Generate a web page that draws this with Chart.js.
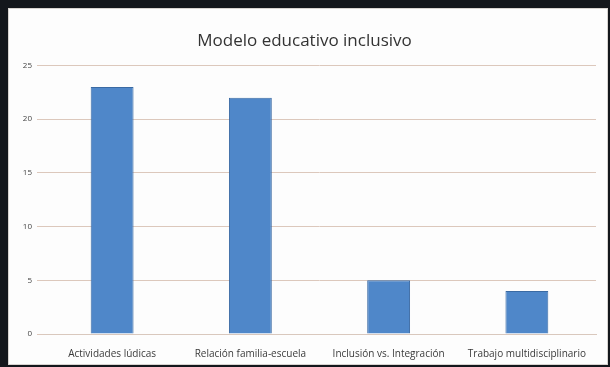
<!DOCTYPE html>
<html>
<head>
<meta charset="utf-8">
<script src="https://cdn.jsdelivr.net/npm/chart.js@4"></script>
<style>
  html, body { margin: 0; padding: 0; background: #14171c; }
  #panel {
    position: absolute; left: 8px; top: 8px; width: 598px; height: 355px;
    background: #fdfdfd; border: 1px solid #d8d4d0;
  }
  #chart { display: block; }
</style>
</head>
<body>
<div id="panel"><canvas id="chart" width="598" height="355"></canvas></div>
<script>
const categories = ['Actividades lúdicas', 'Relación familia-escuela', 'Inclusión vs. Integración', 'Trabajo multidisciplinario'];
const values = [23, 22, 5, 4];
const yTicks = [0, 5, 10, 15, 20, 25];

new Chart(document.getElementById('chart'), {
    type: 'bar',
    data: {
        labels: categories,
        datasets: [{
            data: values,
            backgroundColor: '#4f87c9',
            borderColor: '#3a6aa3',
            borderWidth: 1,
            categoryPercentage: 1,
            barPercentage: 0.31
        }]
    },
    options: {
        responsive: false,
        animation: false,
        layout: { padding: { left: 4, right: 11, top: 4, bottom: -10 } },
        plugins: {
            legend: { display: false },
            tooltip: { enabled: false },
            title: {
                display: true,
                text: 'Modelo educativo inclusivo',
                color: '#333',
                font: { family: 'Open Sans', size: 17, weight: 'normal' },
                padding: { top: 18, bottom: 14 }
            }
        },
        scales: {
            x: {
                grid: { display: false, drawTicks: false },
                border: { color: '#d9c8bd' },
                ticks: {
                    color: '#3a3a3a',
                    font: { family: 'Open Sans', size: 10 },
                    padding: 14,
                    maxRotation: 0,
                    autoSkip: false
                }
            },
            y: {
                min: 0,
                max: 25,
                afterBuildTicks: axis => { axis.ticks = yTicks.map(v => ({ value: v })); },
                afterFit: axis => { axis.width = 30; },
                grid: { color: '#dcc8bc', drawTicks: true, tickLength: 6 },
                border: { display: false },
                ticks: {
                    color: '#444',
                    font: { family: 'Open Sans', size: 8 },
                    padding: 5
                }
            }
        }
    }
});
</script>
</body>
</html>
